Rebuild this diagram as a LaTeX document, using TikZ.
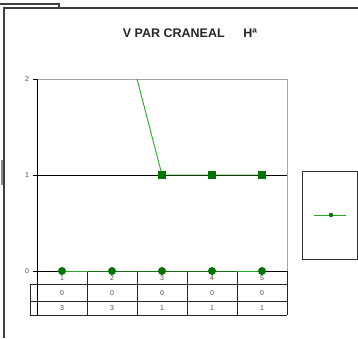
\documentclass[tikz,border=0pt]{standalone}
\usepackage{fontspec}
\setmainfont{Liberation Sans}
\begin{document}
\begin{tikzpicture}[x=1pt,y=-1pt,
  frame/.style={draw=black!75,line width=1.1pt},
  axisline/.style={draw=black,line width=0.8pt},
  grayline/.style={draw=black!35,line width=0.8pt},
  tabline/.style={draw=black!85,line width=0.8pt},
  serline/.style={draw=green!60!black!85,line width=0.9pt},
  sqmark/.style={fill=green!45!black,draw=none,minimum size=8pt,inner sep=0pt,rectangle},
  cmark/.style={fill=green!45!black,draw=none,minimum size=8pt,inner sep=0pt,circle},
  ticklab/.style={font=\fontsize{7}{8}\selectfont,text=black!70,inner sep=0pt},
  tablab/.style={font=\fontsize{7}{8}\selectfont,text=black!70,inner sep=0pt}]
\useasboundingbox (0,0) rectangle (358,338);
% outer frame
\draw[frame] (4,338) -- (4,8) -- (358,8);
\draw[frame] (0,4) -- (59,4) -- (59,8);
\draw[draw=black!45,line width=1.5pt] (2,160) -- (2,185);
% title
\node[font=\bfseries\fontsize{12.5}{14}\selectfont,text=black!85] (title) at (190,33) {V PAR CRANEAL\hspace{1.5em}Hª};
% plot area borders
\draw[grayline] (37,79) -- (287,79) -- (287,271);
\draw[axisline] (33,175) -- (287,175);
\draw[axisline] (33,79) -- (37,79);
\draw[axisline] (37,79) -- (37,315);
\draw[axisline] (33,271) -- (287,271);
% tick labels
\node[ticklab] (t2) at (27,79) {2};
\node[ticklab] (t1) at (27,175) {1};
\node[ticklab] (t0) at (27,271) {0};
% table
\draw[tabline] (30,284) -- (287,284);
\draw[tabline] (30,301) -- (287,301);
\draw[tabline] (30,315) -- (287,315);
\draw[tabline] (30,284) -- (30,315);
\foreach \xx in {87,137,187,237,287} \draw[tabline] (\xx,271) -- (\xx,315);
\foreach \i/\xx/\v in {1/62/3,2/112/3,3/162/1,4/212/1,5/262/1} {
  \node[tablab] (h\i) at (\xx,278) {\i};
  \node[tablab] (r\i) at (\xx,293) {0};
  \node[tablab] (s\i) at (\xx,308) {\v};
}
% series 1 (squares)
\coordinate (top) at (137,79);
\node[sqmark] (a3) at (162,175) {};
\node[sqmark] (a4) at (212,175) {};
\node[sqmark] (a5) at (262,175) {};
\draw[serline] (top) -- (a3.center) -- (a4.center) -- (a5.center);
\node[sqmark] at (a3) {};
\node[sqmark] at (a4) {};
\node[sqmark] at (a5) {};
% series 2 (circles)
\foreach \i/\xx in {1/62,2/112,3/162,4/212,5/262} \coordinate (c\i) at (\xx,271);
\draw[serline] (c1) -- (c2) -- (c3) -- (c4) -- (c5);
\foreach \i in {1,...,5} \node[cmark] (b\i) at (c\i) {};
% legend
\draw[draw=black!80,line width=0.9pt] (302,171) rectangle (357,259);
\coordinate (l1) at (314,215);
\coordinate (l2) at (346,215);
\draw[serline,line width=0.8pt] (l1) -- (l2);
\node[cmark,minimum size=4.5pt] (lm) at (331,215) {};
\end{tikzpicture}
\end{document}
